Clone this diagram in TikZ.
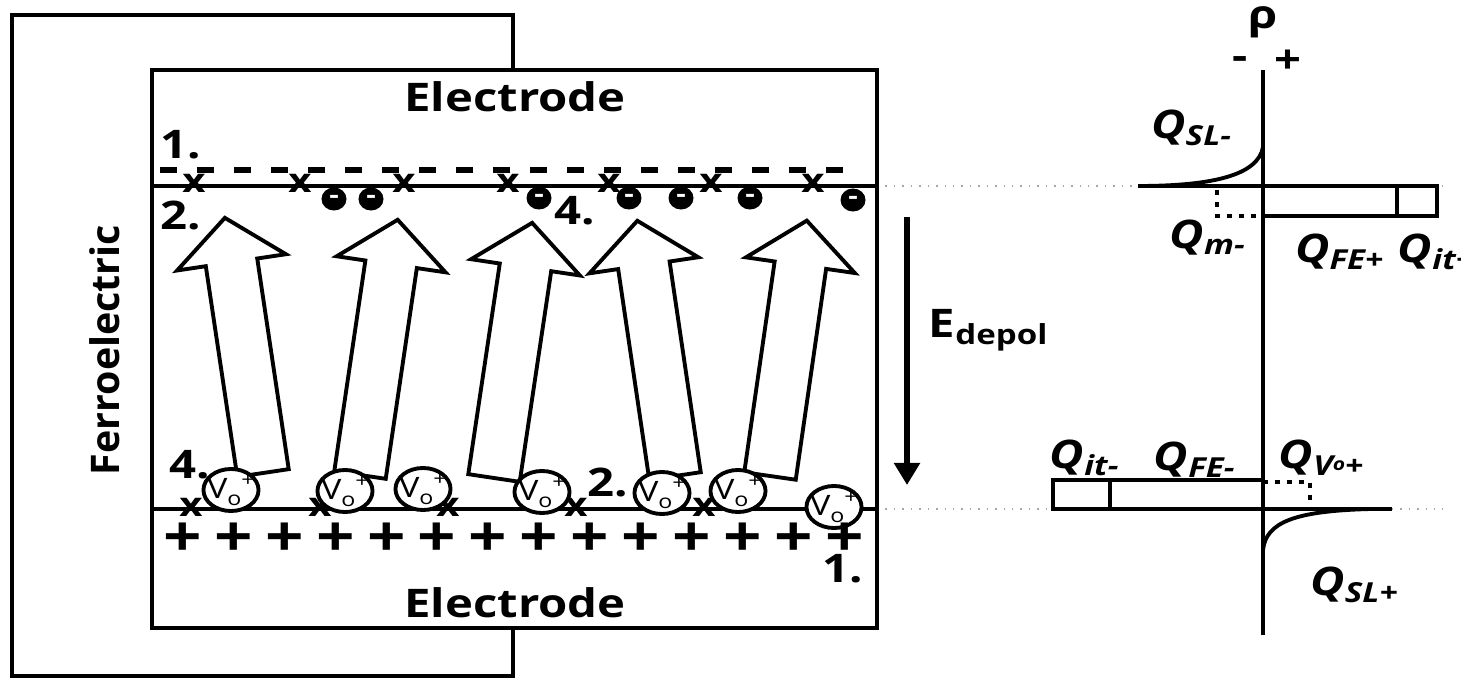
\documentclass[tikz,border=0pt]{standalone}
\usepackage{fontspec}
\setmainfont{Open Sans}[FakeStretch=1.2]
\newfontfamily\plainsans{Open Sans}
\usetikzlibrary{arrows.meta,calc,shapes.geometric}
\tikzset{
  >={Triangle[length=2.2mm,width=2.5mm]},
  lbl/.style={inner sep=0pt,font=\bfseries\fontsize{11.2}{13}\selectfont},
  qlbl/.style={inner sep=0pt,font=\bfseries\itshape\fontsize{11.2}{13}\selectfont},
  xm/.style={inner sep=0pt,font=\bfseries\fontsize{9.5}{10}\selectfont},
  pl/.style={inner sep=0pt,font=\bfseries\fontsize{16}{17}\selectfont},
  neg/.style={ellipse,fill,text=white,minimum width=2.5mm,minimum height=2.3mm,inner sep=0pt,font=\bfseries\fontsize{7}{7}\selectfont},
  vo/.style={ellipse,draw,fill=white,minimum width=4.8mm,minimum height=4.2mm,inner sep=-1.2pt,font=\fontsize{8}{9}\selectfont},
  guide/.style={gray!70,line width=0.4pt,dotted},
  polar/.pic={\draw[fill=white] (-26,0) -- (-26,-213) -- (-55,-213) -- (0,-258) -- (55,-213) -- (26,-213) -- (26,0) -- cycle;},
  every picture/.style={line width=1.1pt},
}
\newcommand{\vo}{V\raisebox{-0.45ex}{\fontsize{5.5}{6}\selectfont o}\raisebox{0.8ex}{\fontsize{5.5}{6}\selectfont +}}

\begin{document}
\begin{tikzpicture}[x=0.01cm,y=-0.01cm]
\useasboundingbox (0,0) rectangle (1461,679);
\clip (0,0) rectangle (1461,679);
% guides to the charge plot
\draw[guide] (877,186) -- (1443,186); \draw[guide] (877,509) -- (1443,509);
% circuit and stack
\draw (513,70) -- (513,15) -- (12,15) -- (12,676) -- (513,676) -- (513,628);
\draw (152,70) rectangle (877,628);
\draw (152,186) -- (877,186); \draw (152,509) -- (877,509);
\draw[line width=1.5pt,dash pattern=on 0.17cm off 0.2cm] (160,170) -- (855,170);
\node[lbl] (el1) at (515,97){Electrode}; \node[lbl] (el2) at (515,603){Electrode};
\node[lbl,rotate=90,font=\plainsans\bfseries\fontsize{11.2}{13}\selectfont] (fe) at (105,350){Ferroelectric};
\node[lbl] (t1a) at (181,145){1.}; \node[lbl] (t2a) at (181,215){2.}; \node[lbl] (t3) at (244,349){3.};
\node[lbl] (t4a) at (190,465){4.}; \node[lbl] (t4b) at (575,211){4.}; \node[lbl] (t2b) at (608,482){2.};
\node[lbl] (t1b) at (843,569){1.};
% polarisation
\pic (pol1) [rotate=8.5] at (263,473) {polar}; \pic (pol2) [rotate=-8.4] at (360,475) {polar};
\pic (pol3) [rotate=-8.5] at (494,478) {polar}; \pic (pol4) [rotate=8.4] at (675,476) {polar};
\pic (pol5) [rotate=-8.2] at (770,476) {polar};
% top interface
\node[xm] (xa1) at (194,183){x}; \node[xm] (xa2) at (300,183){x}; \node[xm] (xa3) at (404,183){x};
\node[xm] (xa4) at (508,183){x}; \node[xm] (xa5) at (609,183){x}; \node[xm] (xa6) at (711,183){x};
\node[xm] (xa7) at (813,183){x};
\node[neg] (m1) at (334,199){-}; \node[neg] (m2) at (371,199){-}; \node[neg] (m3) at (539,198){-};
\node[neg] (m4) at (629,198){-}; \node[neg] (m5) at (681,198){-}; \node[neg] (m6) at (750,198){-};
\node[neg] (m7) at (853,200){-};
% bottom interface
\node[xm] (xb1) at (191,507){x}; \node[xm] (xb2) at (320,507){x}; \node[xm] (xb3) at (448,507){x};
\node[xm] (xb4) at (576,507){x}; \node[xm] (xb5) at (704,507){x};
\node[vo] (v1) at (231,490){\vo}; \node[vo] (v2) at (345,491){\vo}; \node[vo] (v3) at (423,489){\vo};
\node[vo] (v4) at (542,492){\vo}; \node[vo] (v5) at (662,493){\vo}; \node[vo] (v6) at (738,491){\vo};
\node[vo] (v7) at (834,507){\vo};
\node[pl] (p1) at (183,540){+}; \node[pl] (p2) at (234,540){+}; \node[pl] (p3) at (285,540){+};
\node[pl] (p4) at (336,540){+}; \node[pl] (p5) at (387,540){+}; \node[pl] (p6) at (437,540){+};
\node[pl] (p7) at (488,540){+}; \node[pl] (p8) at (539,540){+}; \node[pl] (p9) at (590,540){+};
\node[pl] (p10) at (641,540){+}; \node[pl] (p11) at (692,540){+}; \node[pl] (p12) at (743,540){+};
\node[pl] (p13) at (794,540){+}; \node[pl] (p14) at (845,540){+};
% depolarisation field
\coordinate (e1) at (907,217); \coordinate (e2) at (907,485);
\draw[->,line width=1.5pt] (e1) -- (e2);
\node[lbl,anchor=base west] (ed) at (927,337){E\textsubscript{depol}};
% charge plot
\draw[line width=1.3pt] (1263,70) -- (1263,635);
\node[lbl] (rho) at (1263,22){ρ}; \node[lbl] (sm) at (1240,63){-}; \node[lbl] (sp) at (1288,62){+};
\draw (1138,186) -- (1437,186); \draw (1263,186) rectangle (1437,216); \draw (1397,186) -- (1397,216);
\draw (1138,186) .. controls (1210,186) and (1258,176) .. (1263,147);
\draw[line width=1.4pt,dotted] (1217,190) -- (1217,216) -- (1263,216);
\draw (1053,480) rectangle (1263,509); \draw (1110,480) -- (1110,509); \draw (1263,509) -- (1392,509);
\draw (1263,550) .. controls (1266,522) and (1295,511) .. (1370,509);
\draw[line width=1.4pt,dotted] (1263,482) -- (1310,482) -- (1310,509);
\node[qlbl] (qsl1) at (1192,128){Q\textsubscript{SL-}}; \node[qlbl] (qm) at (1208,238){Q\textsubscript{m-}};
\node[qlbl] (qfe1) at (1340,252){Q\textsubscript{FE+}}; \node[qlbl,anchor=west] (qit1) at (1396,252){Q\textsubscript{it+}};
\node[qlbl] (qit2) at (1085,458){Q\textsubscript{it-}}; \node[qlbl] (qfe2) at (1195,460){Q\textsubscript{FE-}};
\node[qlbl] (qvo) at (1322,458){Q\textsubscript{V\raisebox{0.35ex}{\fontsize{5}{5}\selectfont o}+}};
\node[qlbl] (qsl2) at (1355,585){Q\textsubscript{SL+}};
\end{tikzpicture}
\end{document}
